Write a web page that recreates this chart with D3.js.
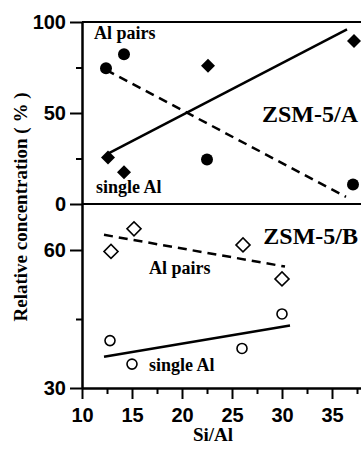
<!DOCTYPE html>
<html><head><meta charset="utf-8">
<script src="https://cdn.jsdelivr.net/npm/d3@7"></script>
<style>body{margin:0;background:#fff}svg{display:block}</style>
</head><body>
<script>
// ---- data ----
const topPairsX = [12.4, 14.2, 22.5, 37.1];
const topPairsY = [74.6, 82.3, 24.4, 10.7];
const topSingleX = [12.6, 14.2, 22.6, 37.2];
const topSingleY = [25.6, 17.5, 75.9, 89.6];
const topPairsFitX = [12.4, 36.4];
const topPairsFitY = [73.7, 3.9];
const topSingleFitX = [12.6, 36.5];
const topSingleFitY = [27.7, 96.0];

const botPairsX = [12.9, 15.2, 26.1, 30.0];
const botPairsY = [59.7, 64.6, 61.1, 53.7];
const botSingleX = [12.8, 15.0, 26.0, 30.0];
const botSingleY = [40.3, 35.2, 38.6, 46.1];
const botPairsFitX = [12.2, 30.3];
const botPairsFitY = [63.3, 56.4];
const botSingleFitX = [12.2, 30.8];
const botSingleFitY = [36.8, 43.6];

const xTicks = [10, 15, 20, 25, 30, 35];
const xMinor = [12.5, 17.5, 22.5, 27.5, 32.5, 37.5];
const topTicks = [0, 50, 100];
const topMinor = [25, 75];
const botTicks = [30, 60];
const botMinor = [45];

const W = 361, H = 449;
const svg = d3.select("body").append("svg").attr("width", W).attr("height", H);

const x = d3.scaleLinear().domain([10, 37.9]).range([82, 361]);
const yTop = d3.scaleLinear().domain([0, 100]).range([204, 22]);
const yBot = d3.scaleLinear().domain([30, 70]).range([388, 204]);

const sans = "'Liberation Sans', Arial, Helvetica, sans-serif";
const serif = "'Liberation Serif', 'Times New Roman', serif";

function styleAxis(g) {
  g.selectAll("path.domain").attr("stroke", "#000").attr("stroke-width", 2);
  g.selectAll(".tick line").attr("stroke", "#000").attr("stroke-width", 2);
  g.selectAll("text").attr("font-family", sans).attr("font-weight", "bold")
   .attr("font-size", 20).attr("fill", "#000");
}

// Y axes
const gyTop = svg.append("g").attr("transform", "translate(82,0)")
  .call(d3.axisLeft(yTop).tickValues(topTicks).tickSize(12).tickPadding(4).tickSizeOuter(0));
styleAxis(gyTop);
const gyTopMin = svg.append("g").attr("transform", "translate(82,0)")
  .call(d3.axisLeft(yTop).tickValues(topMinor).tickSize(6).tickFormat("").tickSizeOuter(0));
styleAxis(gyTopMin);

const gyBot = svg.append("g").attr("transform", "translate(82,0)")
  .call(d3.axisLeft(yBot).tickValues(botTicks).tickSize(12).tickPadding(4).tickSizeOuter(0));
styleAxis(gyBot);
const gyBotMin = svg.append("g").attr("transform", "translate(82,0)")
  .call(d3.axisLeft(yBot).tickValues(botMinor).tickSize(6).tickFormat("").tickSizeOuter(0));
styleAxis(gyBotMin);

// X axis
const gx = svg.append("g").attr("transform", "translate(0,388)")
  .call(d3.axisBottom(x).tickValues(xTicks).tickSize(11).tickPadding(9).tickSizeOuter(0));
styleAxis(gx);
const gxMin = svg.append("g").attr("transform", "translate(0,388)")
  .call(d3.axisBottom(x).tickValues(xMinor).tickSize(6).tickFormat("").tickSizeOuter(0));
styleAxis(gxMin);

// horizontal frame lines (top & divider)
[yTop(100), yTop(0)].forEach(yy => {
  svg.append("line").attr("x1", 82).attr("x2", W).attr("y1", yy).attr("y2", yy)
    .attr("stroke", "#000").attr("stroke-width", 2);
});

// fit lines
function fitLine(xs, ys, yS, dashed) {
  const pts = xs.map((v, i) => [x(v), yS(ys[i])]);
  svg.append("path").attr("d", d3.line()(pts)).attr("fill", "none")
    .attr("stroke", "#000").attr("stroke-width", 2.5)
    .attr("stroke-dasharray", dashed ? "9,6" : null);
}
fitLine(topPairsFitX, topPairsFitY, yTop, true);
fitLine(topSingleFitX, topSingleFitY, yTop, false);
fitLine(botPairsFitX, botPairsFitY, yBot, true);
fitLine(botSingleFitX, botSingleFitY, yBot, false);

// markers
function circles(xs, ys, yS, r, filled) {
  svg.append("g").selectAll("circle").data(xs).join("circle")
    .attr("cx", d => x(d)).attr("cy", (d, i) => yS(ys[i])).attr("r", r)
    .attr("fill", filled ? "#000" : "#fff").attr("stroke", "#000")
    .attr("stroke-width", filled ? 0 : 1.6);
}
function diamonds(xs, ys, yS, half, filled) {
  svg.append("g").selectAll("path").data(xs).join("path")
    .attr("d", d3.symbol().type(d3.symbolSquare).size(2 * half * half)())
    .attr("transform", (d, i) => `translate(${x(d)},${yS(ys[i])}) rotate(45)`)
    .attr("fill", filled ? "#000" : "#fff").attr("stroke", "#000")
    .attr("stroke-width", filled ? 0 : 1.6);
}
circles(topPairsX, topPairsY, yTop, 6, true);
diamonds(topSingleX, topSingleY, yTop, 7, true);
diamonds(botPairsX, botPairsY, yBot, 7, false);
circles(botSingleX, botSingleY, yBot, 5, false);

// annotations
function label(txt, px, py, size, anchor) {
  svg.append("text").attr("x", px).attr("y", py).text(txt)
    .attr("font-family", serif).attr("font-weight", "bold").attr("font-size", size)
    .attr("text-anchor", anchor || "start").attr("fill", "#000");
}
label("Al pairs", 94, 39, 18);
label("single Al", 96, 193, 18);
label("ZSM-5/A", 358, 122, 24, "end");
label("ZSM-5/B", 358, 244, 24, "end");
label("Al pairs", 149, 274, 18);
label("single Al", 149, 371, 18);

// axis titles
svg.append("text").attr("transform", "translate(27,207) rotate(-90)")
  .attr("text-anchor", "middle").attr("font-family", serif).attr("font-weight", "bold")
  .attr("font-size", 19).text("Relative concentration ( % )");
svg.append("text").attr("x", 213).attr("y", 441).attr("text-anchor", "middle")
  .attr("font-family", serif).attr("font-weight", "bold").attr("font-size", 19).text("Si/Al");
</script>
</body></html>
